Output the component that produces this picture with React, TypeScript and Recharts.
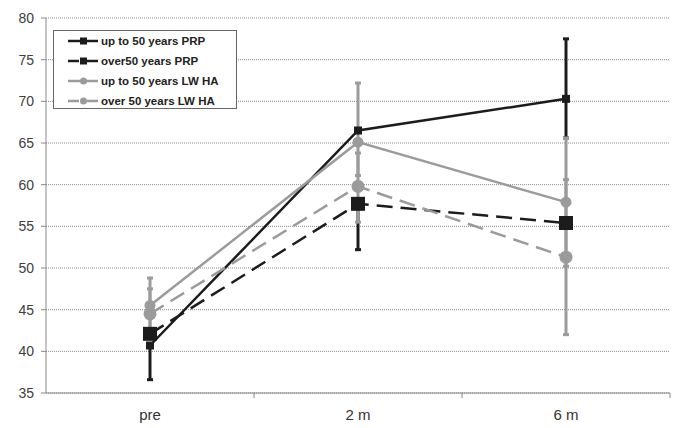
import React from 'react';
import { LineChart, Line, XAxis, YAxis, CartesianGrid, ErrorBar, Legend } from 'recharts';

const categories = ['pre', '2 m', '6 m'];
const seriesNames = ['up to 50 years PRP', 'over50 years PRP', 'up to 50 years LW HA', 'over 50 years LW HA'];
const upTo50PRP = [40.7, 66.5, 70.3];
const over50PRP = [42.1, 57.7, 55.4];
const upTo50LWHA = [45.5, 65.1, 57.9];
const over50LWHA = [44.5, 59.8, 51.3];
// [lower, upper] error
const upTo50PRPErr = [[4.1, 0], [0, 0], [4.7, 7.2]];
const over50PRPErr = [[0, 0], [5.5, 0], [0, 0]];
const upTo50LWHAErr = [[3.0, 3.3], [4.0, 7.1], [7.7, 7.7]];
const over50LWHAErr = [[3.0, 3.0], [4.3, 4.0], [9.3, 9.3]];
const yTicks = [35, 40, 45, 50, 55, 60, 65, 70, 75, 80];

const data = categories.map((c, i) => ({
  pos: i + 0.5,
  name: c,
  a: upTo50PRP[i],
  b: over50PRP[i],
  c: upTo50LWHA[i],
  d: over50LWHA[i],
  ae: upTo50PRPErr[i],
  be: over50PRPErr[i],
  ce: upTo50LWHAErr[i],
  de: over50LWHAErr[i],
}));

const BLACK = '#1c1c1c';
const GRAY = '#9b9b9b';
const W = 678;
const H = 428;
const M = { top: 18, right: 8, bottom: 5, left: 0 };
const Y_W = 46;
const HALF_BAND = (W - M.left - M.right - Y_W) / 6;

const square = (size: number, color: string) => (p: any) => (
  <rect key={`sq-${p.index}`} x={p.cx - size / 2} y={p.cy - size / 2} width={size} height={size} fill={color} />
);

const XTick = (props: any) => {
  const { x, y, payload } = props;
  return (
    <g>
      <line x1={x + HALF_BAND} x2={x + HALF_BAND} y1={y} y2={y + 5} stroke="#888" strokeWidth={1} />
      <text x={x} y={y + 27} textAnchor="middle" fontSize={15} fill="#333" fontFamily="Liberation Sans, Arial, sans-serif">
        {categories[Math.floor(payload.value)]}
      </text>
    </g>
  );
};

const legendItems = [
  { name: seriesNames[0], color: BLACK, dash: false, shape: 'square' },
  { name: seriesNames[1], color: BLACK, dash: true, shape: 'square' },
  { name: seriesNames[2], color: GRAY, dash: false, shape: 'circle' },
  { name: seriesNames[3], color: GRAY, dash: true, shape: 'circle' },
];

const LegendBox = () => (
  <div style={{ width: 182, height: 77, border: '1px solid #666', background: '#fff', boxSizing: 'content-box' }}>
    <svg width={182} height={77}>
      {legendItems.map((it, i) => {
        const cy = 10 + i * 20;
        return (
          <g key={it.name}>
            {it.dash ? (
              <>
                <line x1={14} x2={25} y1={cy} y2={cy} stroke={it.color} strokeWidth={2.5} />
                <line x1={33} x2={44} y1={cy} y2={cy} stroke={it.color} strokeWidth={2.5} />
              </>
            ) : (
              <line x1={14} x2={44} y1={cy} y2={cy} stroke={it.color} strokeWidth={2.5} />
            )}
            {it.shape === 'square' ? (
              <rect x={26} y={cy - 3.5} width={7} height={7} fill={it.color} />
            ) : (
              <circle cx={29.5} cy={cy} r={3.5} fill={it.color} />
            )}
            <text x={47} y={cy + 4} fontSize={11.5} fontWeight="bold" fill="#222" fontFamily="Liberation Sans, Arial, sans-serif">
              {it.name}
            </text>
          </g>
        );
      })}
    </svg>
  </div>
);

export default function App() {
  return (
    <div style={{ position: 'absolute', left: 0, top: 0, background: '#fff' }}>
      <LineChart width={W} height={H} data={data} margin={M}>
        <CartesianGrid horizontal vertical={false} stroke="#888" strokeDasharray="1 1" />
        <XAxis
          dataKey="pos"
          type="number"
          domain={[0, 3]}
          ticks={[0.5, 1.5, 2.5]}
          tick={<XTick />}
          tickLine={false}
          tickSize={0}
          tickMargin={0}
          height={30}
          stroke="#888"
          interval={0}
        />
        <YAxis
          domain={[35, 80]}
          ticks={yTicks}
          width={Y_W}
          tickSize={5}
          tickMargin={7}
          stroke="#888"
          tick={{ fontSize: 14, fill: '#404040', fontFamily: 'Liberation Sans, Arial, sans-serif' }}
          interval={0}
        />
        <Legend
          layout="vertical"
          align="center"
          verticalAlign="middle"
          wrapperStyle={{ left: 53, top: 30, width: 184, height: 79 }}
          content={() => <LegendBox />}
        />
        <Line dataKey="a" name={seriesNames[0]} stroke={BLACK} strokeWidth={2.5} dot={square(8, BLACK)} isAnimationActive={false}>
          <ErrorBar dataKey="ae" direction="y" width={3} stroke={BLACK} strokeWidth={3} />
        </Line>
        <Line dataKey="b" name={seriesNames[1]} stroke={BLACK} strokeWidth={2.5} strokeDasharray="16 8" dot={square(14, BLACK)} isAnimationActive={false}>
          <ErrorBar dataKey="be" direction="y" width={3} stroke={BLACK} strokeWidth={3} />
        </Line>
        <Line dataKey="c" name={seriesNames[2]} stroke={GRAY} strokeWidth={2.5} dot={{ r: 5.5, fill: GRAY, stroke: GRAY, strokeWidth: 0 }} isAnimationActive={false}>
          <ErrorBar dataKey="ce" direction="y" width={3} stroke={GRAY} strokeWidth={3} />
        </Line>
        <Line dataKey="d" name={seriesNames[3]} stroke={GRAY} strokeWidth={2.5} strokeDasharray="16 8" dot={{ r: 6.5, fill: GRAY, stroke: GRAY, strokeWidth: 0 }} isAnimationActive={false}>
          <ErrorBar dataKey="de" direction="y" width={3} stroke={GRAY} strokeWidth={3} />
        </Line>
      </LineChart>
    </div>
  );
}
